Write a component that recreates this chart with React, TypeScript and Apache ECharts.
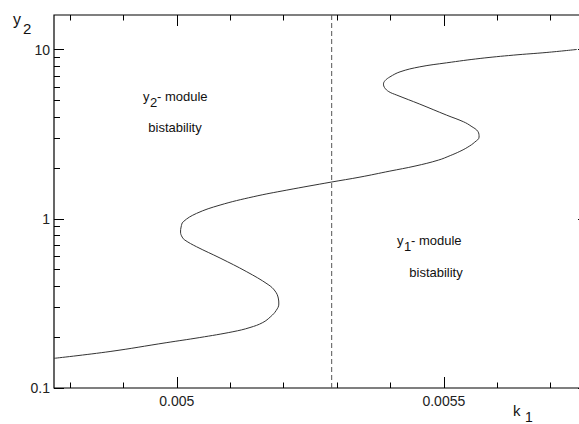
import React, { useEffect, useRef } from "react";
import * as echarts from "echarts";

// curve: k1 (x) and y2 (y) along the bifurcation branch
const k1Values = [
  0.00477, 0.004875, 0.00498, 0.005043, 0.005105, 0.005137, 0.005161, 0.005176,
  0.005186, 0.005191, 0.00519, 0.005184, 0.005171, 0.005131, 0.005081, 0.005037,
  0.005015, 0.00501, 0.005007, 0.005008, 0.005012, 0.005037, 0.005081, 0.005143,
  0.005206, 0.005289, 0.005343, 0.005399, 0.005446, 0.00549, 0.005512, 0.00553,
  0.005545, 0.005558, 0.005566, 0.005564, 0.005551, 0.005537, 0.005505, 0.005455,
  0.005412, 0.005397, 0.005389, 0.005387, 0.00539, 0.005399, 0.005418, 0.005455,
  0.005505, 0.005568, 0.00563, 0.005693, 0.005749,
];
const y2Values = [
  0.1497, 0.1643, 0.1852, 0.1987, 0.215, 0.2277, 0.2437, 0.2645,
  0.287, 0.3135, 0.3401, 0.3741, 0.4087, 0.4862, 0.5859, 0.6833,
  0.7486, 0.7796, 0.8346, 0.8932, 0.96, 1.076, 1.205, 1.349,
  1.477, 1.647, 1.763, 1.913, 2.048, 2.222, 2.362, 2.501,
  2.652, 2.838, 3.038, 3.274, 3.528, 3.741, 4.099, 4.759,
  5.379, 5.64, 5.957, 6.246, 6.551, 6.889, 7.384, 7.903,
  8.345, 8.859, 9.266, 9.613, 10.01,
];
const dashedK1 = 0.00529;

const xMajorTicks = [0.005, 0.0055];
const xMajorLabels = ["0.005", "0.0055"];
const xMinorTicks = [0.0048, 0.0049, 0.0051, 0.0052, 0.0053, 0.0054, 0.0056, 0.0057];
const yMajorTicks = [0.1, 1, 10];
const yMajorLabels = ["0.1", "1", "10"];
const yMinorTicks = [0.2, 0.3, 0.4, 0.5, 0.6, 0.7, 0.8, 0.9, 2, 3, 4, 5, 6, 7, 8, 9];

const X_MIN = 0.00477;
const X_MAX = 0.00577;
const Y_MIN = 0.1;
const Y_MAX = 16;

const FONT = "'Liberation Sans', Arial, Helvetica, sans-serif";

export default function App() {
  const ref = useRef<HTMLDivElement>(null);

  useEffect(() => {
    if (!ref.current) return;
    const chart = echarts.init(ref.current, null, { renderer: "svg" });
    const tickStyle = { color: "#000", width: 1 };

    const xAxisBase = (position: string, ticks: number[], len: number, labels: boolean) => ({
      type: "value",
      min: X_MIN,
      max: X_MAX,
      position,
      axisLine: { show: false },
      splitLine: { show: false },
      axisTick: { show: true, inside: true, length: len, customValues: ticks, lineStyle: tickStyle },
      axisLabel: labels
        ? {
            show: true,
            customValues: xMajorTicks,
            margin: 6,
            fontSize: 14,
            fontFamily: FONT,
            color: "#222",
            formatter: (v: number) => {
              const i = xMajorTicks.findIndex((t) => Math.abs(t - v) < 1e-9);
              return i >= 0 ? xMajorLabels[i] : "";
            },
          }
        : { show: false },
    });

    const yAxisBase = (position: string, ticks: number[], len: number, labels: boolean) => ({
      type: "log",
      logBase: 10,
      min: Y_MIN,
      max: Y_MAX,
      position,
      axisLine: { show: false },
      splitLine: { show: false },
      minorTick: { show: false },
      axisTick: { show: true, inside: true, length: len, customValues: ticks, lineStyle: tickStyle },
      axisLabel: labels
        ? {
            show: true,
            customValues: yMajorTicks,
            margin: 4,
            fontSize: 14,
            fontFamily: FONT,
            color: "#222",
            formatter: (v: number) => {
              const i = yMajorTicks.findIndex((t) => Math.abs(Math.log10(t) - Math.log10(v)) < 1e-6);
              return i >= 0 ? yMajorLabels[i] : "";
            },
          }
        : { show: false },
    });

    const curve = k1Values.map((k, i) => [k, y2Values[i]]);

    const txt = (text: string, x: number, y: number, size: number, align = "left") => ({
      type: "text",
      x,
      y,
      style: {
        text,
        fontSize: size,
        fontFamily: FONT,
        fill: "#111",
        textAlign: align,
        textVerticalAlign: "middle",
      },
    });

    chart.setOption({
      animation: false,
      backgroundColor: "#fff",
      grid: {
        left: 54,
        top: 15,
        right: 12,
        bottom: 36,
        show: true,
        borderColor: "#000",
        borderWidth: 1.2,
        backgroundColor: "transparent",
      },
      xAxis: [
        xAxisBase("bottom", xMajorTicks, 11, true),
        xAxisBase("bottom", xMinorTicks, 5.5, false),
        xAxisBase("top", xMajorTicks, 11, false),
        xAxisBase("top", xMinorTicks, 5.5, false),
      ],
      yAxis: [
        yAxisBase("left", yMajorTicks, 10, true),
        yAxisBase("left", yMinorTicks, 6, false),
        yAxisBase("right", yMajorTicks, 10, false),
        yAxisBase("right", yMinorTicks, 6, false),
      ],
      series: [
        {
          type: "line",
          xAxisIndex: 0,
          yAxisIndex: 0,
          data: curve,
          showSymbol: false,
          symbol: "none",
          smooth: 0.4,
          lineStyle: { color: "#333", width: 1 },
        },
        {
          type: "line",
          xAxisIndex: 0,
          yAxisIndex: 0,
          data: [
            [dashedK1, Y_MIN],
            [dashedK1, Y_MAX],
          ],
          showSymbol: false,
          symbol: "none",
          lineStyle: { color: "#555", width: 1, type: [5, 3] },
        },
      ],
      graphic: [
        // axis names
        txt("y", 13, 19, 16),
        txt("2", 23, 28, 15),
        txt("k", 513, 410, 15),
        txt("1", 525, 417, 14),
        // left annotation
        txt("y", 143, 96, 13),
        txt("2", 150, 102, 13),
        txt("- module", 157, 96, 13),
        txt("bistability", 175, 127, 13, "center"),
        // right annotation
        txt("y", 397, 240, 13),
        txt("1", 404, 246, 13),
        txt("- module", 411, 240, 13),
        txt("bistability", 436, 272, 13, "center"),
      ],
    });

    return () => chart.dispose();
  }, []);

  return (
    <div
      style={{ position: "fixed", left: 0, top: 0, width: 579, height: 424, overflow: "hidden", background: "#fff" }}
    >
      <div ref={ref} style={{ width: 600, height: 424 }} />
    </div>
  );
}
